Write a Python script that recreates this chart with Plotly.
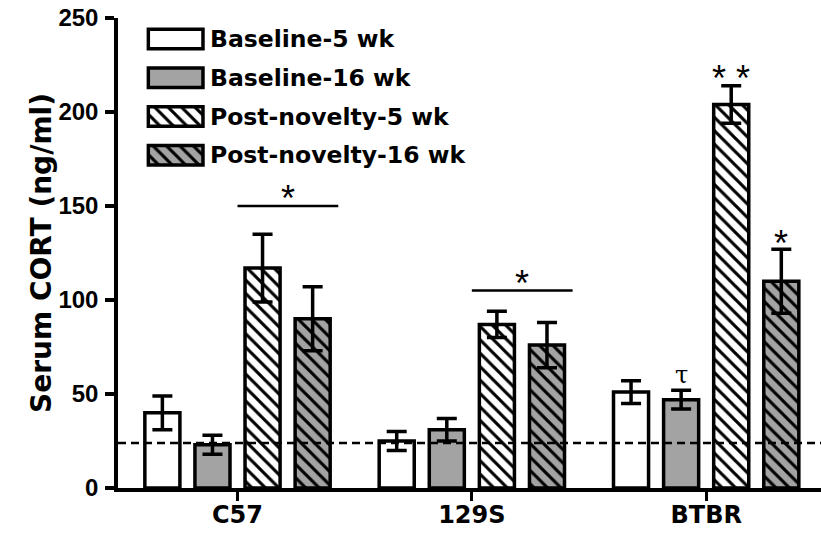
import plotly.graph_objects as go

# ---------------- data ----------------
strains = ["C57", "129S", "BTBR"]
series_names = ["Baseline-5 wk", "Baseline-16 wk", "Post-novelty-5 wk", "Post-novelty-16 wk"]
baseline_5 = [40, 25, 51]
baseline_5_err = [9, 5, 6]
baseline_16 = [23, 31, 47]
baseline_16_err = [5, 6, 5]
post_5 = [117, 87, 204]
post_5_err = [18, 7, 10]
post_16 = [90, 76, 110]
post_16_err = [17, 12, 17]
control_level = 24
y_ticks = [0, 50, 100, 150, 200, 250]
group_sig_levels = [150, 105, None]   # bracket "*" over post-novelty bars

values = [baseline_5, baseline_16, post_5, post_16]
errors = [baseline_5_err, baseline_16_err, post_5_err, post_16_err]

# ---------------- styles ----------------
GRAY = "#a3a3a3"
fills = ["white", GRAY, "white", GRAY]
patterns = ["", "", "\\", "\\"]
BARGAP = 0.145
BARGROUPGAP = 0.3
TXT = "DejaVu Sans"
NUM = "Liberation Sans"


def marker_style(i):
    m = dict(color=fills[i], line=dict(color="black", width=3.5))
    if patterns[i]:
        m["pattern"] = dict(shape=patterns[i], fgcolor="black", fgopacity=1, size=9.5, solidity=0.33)
    return m


fig = go.Figure()
for i, name in enumerate(series_names):
    fig.add_trace(go.Bar(
        name=name, x=strains, y=values[i],
        marker=marker_style(i),
        error_y=dict(type="data", array=errors[i], color="black", thickness=3.5, width=10),
        showlegend=False,
    ))

# custom legend swatches (wide boxes) drawn on a small auxiliary axis
for i, name in enumerate(series_names):
    fig.add_trace(go.Bar(
        x=[1], y=[-i], orientation="h", base=0, width=0.5,
        marker=marker_style(i), xaxis="x2", yaxis="y2",
        showlegend=False, hoverinfo="skip",
    ))
    fig.add_annotation(
        text=name, xref="paper", x=0.128, yref="y2", y=-i,
        xanchor="left", yanchor="middle", showarrow=False,
        font=dict(family=TXT, size=23.5, color="black", weight="bold"),
    )

# dashed control line
fig.add_shape(type="line", xref="paper", x0=0, x1=1, yref="y", y0=control_level, y1=control_level,
              line=dict(color="black", width=2.5, dash="8px,5px"))

pitch = (1 - BARGAP) / 4
def bar_x(group, i):
    return group + (i - 1.5) * pitch

star_font = dict(family=NUM, size=36, color="black")
# group significance brackets
for g, lvl in enumerate(group_sig_levels):
    if lvl is None:
        continue
    x0 = g + 0.0
    x1 = g + 0.43
    fig.add_shape(type="line", xref="x", yref="y", x0=x0, x1=x1, y0=lvl, y1=lvl,
                  line=dict(color="black", width=2.5))
    fig.add_annotation(text="*", x=(x0 + x1) / 2, y=lvl, yanchor="bottom", yshift=-15,
                       showarrow=False, font=star_font)

# BTBR individual markers
fig.add_annotation(text="* *", x=bar_x(2, 2), y=post_5[2] + post_5_err[2], yanchor="bottom",
                   yshift=-15, showarrow=False, font=star_font)
fig.add_annotation(text="*", x=bar_x(2, 3), y=post_16[2] + post_16_err[2], yanchor="bottom",
                   yshift=-17, showarrow=False, font=star_font)
fig.add_annotation(text="τ", x=bar_x(2, 1), y=baseline_16[2] + baseline_16_err[2], yanchor="bottom",
                   yshift=-1, showarrow=False, font=dict(family="DejaVu Serif", size=24, color="black"))

fig.update_layout(
    width=821, height=535,
    margin=dict(l=118, r=0, t=18, b=47),
    paper_bgcolor="white", plot_bgcolor="white",
    barmode="group", bargap=BARGAP, bargroupgap=BARGROUPGAP,
    xaxis=dict(
        type="category", range=[-0.51, 2.49], automargin=False,
        showline=True, linecolor="black", linewidth=3.5,
        ticks="outside", ticklen=9, tickwidth=3, tickcolor="black",
        ticklabelstandoff=-7,
        tickfont=dict(family=TXT, size=24, color="black", weight="bold"),
        showgrid=False, zeroline=False,
    ),
    yaxis=dict(
        range=[0, 250], tickvals=y_ticks, automargin=False,
        showline=True, linecolor="black", linewidth=3.5,
        ticks="outside", ticklen=9, tickwidth=3.5, tickcolor="black",
        ticklabelstandoff=2,
        tickfont=dict(family=NUM, size=24, color="black", weight="bold"),
        title=dict(text="Serum CORT (ng/ml)", standoff=0,
                   font=dict(family=TXT, size=28, color="black", weight="bold")),
        showgrid=False, zeroline=False,
    ),
    xaxis2=dict(domain=[0.040, 0.124], range=[-0.04, 1.04], anchor="y2", visible=False, fixedrange=True),
    yaxis2=dict(domain=[0.655, 1.0], range=[-3.643, 0.543], anchor="x2", visible=False, fixedrange=True),
)

fig.write_html("out.html", config={"displayModeBar": False},
               post_script="document.body.style.margin='0px';document.body.style.overflow='hidden';")
